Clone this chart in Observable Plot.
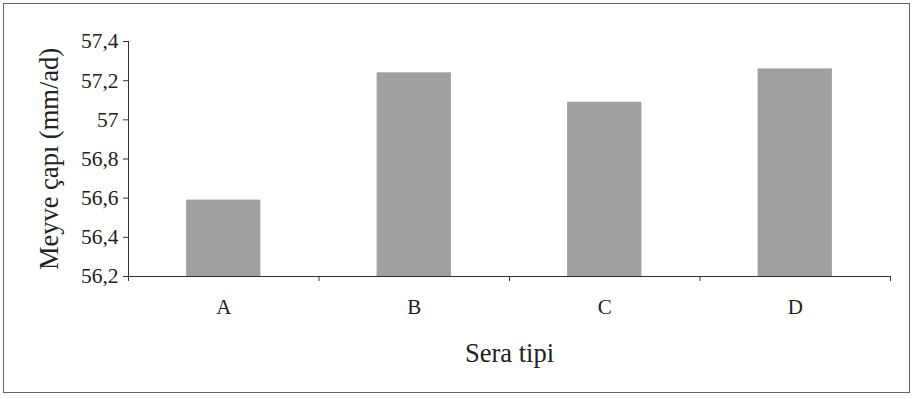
<!DOCTYPE html>
<html><head><meta charset="utf-8">
<script src="https://cdn.jsdelivr.net/npm/d3@7"></script>
<script src="https://cdn.jsdelivr.net/npm/@observablehq/plot@0.6"></script>
<style>
body{margin:0;background:#fff;}
#wrap{position:relative;width:916px;height:399px;}
#frame{position:absolute;left:3px;top:3px;width:907px;height:390px;border:1.5px solid #666;box-sizing:border-box;pointer-events:none;}
svg, svg text{font-family:"Liberation Serif","Times New Roman",serif !important;font-variant:normal !important;}
</style></head>
<body><div id="wrap"><div id="frame"></div></div>
<script>
const categories = ["A","B","C","D"];
const values = [56.59, 57.24, 57.09, 57.26];
const yTicks = [56.2,56.4,56.6,56.8,57.0,57.2,57.4];
const yLabel = "Meyve çapı (mm/ad)";
const xLabel = "Sera tipi";

const data = categories.map((c,i)=>({cat:c, i, v:values[i]}));
const fmt = d => String(+d.toFixed(1)).replace(".", ",");
const serif = '"Liberation Serif", serif';

const chart = Plot.plot({
  width: 916, height: 399,
  marginLeft: 128, marginRight: 26, marginTop: 41, marginBottom: 123,
  style: {fontFamily: serif, color: "#222", background: "transparent"},
  x: {type: "linear", domain: [0, categories.length]},
  y: {domain: [56.2, 57.4]},
  marks: [
    Plot.rectY(data, {x1: d => d.i + 0.305, x2: d => d.i + 0.695, y1: 56.2, y2: "v", fill: "#a0a0a0"}),
    Plot.ruleX([0], {y1: 56.2, y2: 57.4, stroke: "#333"}),
    Plot.ruleY([56.2], {stroke: "#333"}),
    Plot.axisY({ticks: yTicks, tickFormat: fmt, tickSize: 5, tickPadding: 5, fontSize: 21.5, fontFamily: serif, fontVariant: "normal", label: yLabel, labelAnchor: "center", labelArrow: "none", labelOffset: 89, stroke: "#333"}),
    Plot.axisX({ticks: d3.range(categories.length + 1), tickFormat: () => "", tickSize: 5, stroke: "#333", label: null}),
    Plot.axisX({ticks: categories.map((c,i)=>i+0.5), tickFormat: (d) => categories[Math.floor(d)], tickSize: 0, tickPadding: 23, fontSize: 21, fontFamily: serif, fontVariant: "normal", label: xLabel, labelAnchor: "center", labelArrow: "none", labelOffset: 85})
  ]
});
chart.querySelectorAll('[aria-label="y-axis label"] text, [aria-label="x-axis label"] text').forEach(t => t.setAttribute("font-size", "26.5"));
document.getElementById("wrap").prepend(chart);
</script>
</body></html>
